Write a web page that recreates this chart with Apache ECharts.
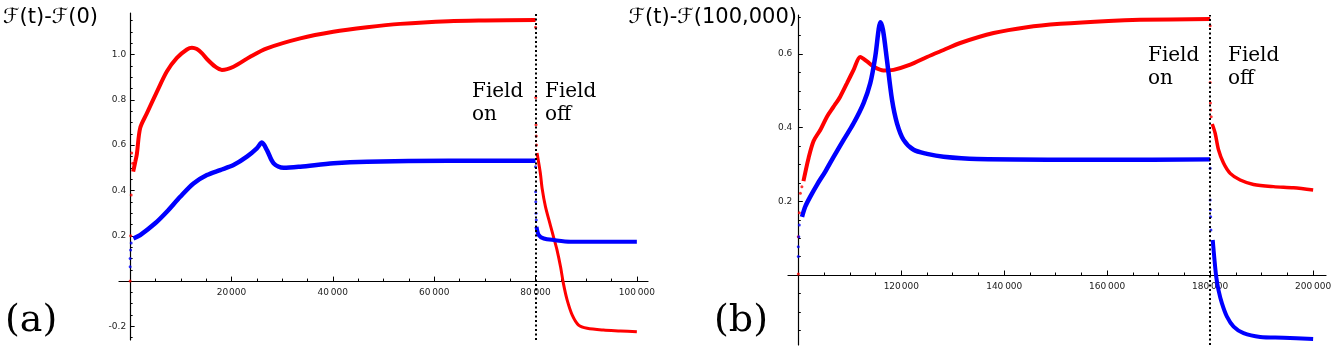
<!DOCTYPE html>
<html><head><meta charset="utf-8">
<script src="https://cdn.jsdelivr.net/npm/echarts@6/dist/echarts.min.js"></script>
<style>html,body{margin:0;padding:0;background:#fff}#c{width:1335px;height:352px}</style>
</head><body><div id="c"></div>
<script>
// ---------- Panel (a): F(t) - F(0) ----------
const fieldOffA = 80000;
const redDotsA0 = [[0,0.0],[100,0.2],[200,0.38],[300,0.565],[500,0.52]];
const redOnA = [[600,0.483],[1000,0.525],[1320,0.56],[1975,0.675],[3290,0.74],[5270,0.835],[7240,0.925],[9220,0.985],[11200,1.022],[12200,1.03],[13170,1.024],[14200,1.005],[15150,0.98],[16790,0.946],[18100,0.932],[20400,0.946],[23700,0.99],[27000,1.027],[33575,1.071],[40100,1.10],[46750,1.12],[53300,1.135],[62860,1.147],[70000,1.15],[80000,1.152]];
const redDotsOffA = [[80000,1.12],[80050,0.81],[80100,0.69],[80150,0.64],[80200,0.60]];
const redOffA = [[80300,0.565],[80950,0.477],[81300,0.41],[81950,0.33],[82950,0.245],[83550,0.195],[84250,0.137],[84950,0.062],[85500,-0.01],[86250,-0.084],[87250,-0.15],[88500,-0.194],[90200,-0.208],[93400,-0.216],[96800,-0.22],[100000,-0.224]];
const blueDotsA0 = [[0,0.063],[0,0.10],[100,0.137],[200,0.168]];
const blueOnA = [[650,0.188],[1975,0.203],[4940,0.255],[7240,0.306],[9875,0.372],[12500,0.431],[15150,0.468],[17775,0.49],[20400,0.512],[23040,0.549],[25000,0.586],[26000,0.611],[27000,0.578],[28300,0.52],[30300,0.50],[33575,0.505],[40150,0.52],[46750,0.527],[62860,0.531],[80000,0.531]];
const blueDotsOffA = [[80000,0.505],[80020,0.394],[80050,0.35],[80100,0.299],[80150,0.27]];
const blueOffA = [[80200,0.24],[80650,0.203],[81630,0.188],[83600,0.181],[86900,0.174],[100000,0.174]];
const xMajorA = [20000,40000,60000,80000,100000];
const xLabelsA = ['20\u200A000','40\u2009000','60\u2009000','80\u2009000','100\u2009000'];
const yMajorA = [-0.2,0.2,0.4,0.6,0.8,1.0];
const yLabelsA = ['-0.2','0.2','0.4','0.6','0.8','1.0'];

// ---------- Panel (b): F(t) - F(100,000) ----------
const fieldOffB = 180000;
const redDotsB0 = [[100000,0.003],[100000,0.104],[100200,0.169],[100400,0.222],[100700,0.24]];
const redOnB = [[101000,0.255],[102000,0.318],[102970,0.364],[104270,0.394],[105570,0.43],[106860,0.457],[108160,0.485],[109460,0.521],[110740,0.557],[112040,0.592],[113340,0.58],[114620,0.566],[116570,0.555],[118500,0.557],[121750,0.571],[125000,0.592],[128220,0.611],[131460,0.63],[137930,0.657],[144400,0.673],[150900,0.682],[160260,0.69],[166400,0.693],[180000,0.695]];
const redDotsOffB = [[180000,0.677],[180000,0.523],[180050,0.467],[180100,0.448],[180200,0.43]];
const redOffB = [[180400,0.41],[180970,0.385],[181620,0.34],[182590,0.304],[183890,0.276],[185830,0.258],[188420,0.246],[192300,0.24],[196190,0.237],[200000,0.231]];
const blueDotsB0 = [[100000,0.05],[100000,0.077],[100100,0.104],[100200,0.136]];
const blueOnB = [[100720,0.158],[101360,0.186],[102330,0.213],[103630,0.245],[105240,0.281],[106860,0.321],[108800,0.367],[110740,0.412],[112680,0.467],[113980,0.521],[114950,0.593],[115600,0.666],[115920,0.686],[116440,0.666],[117220,0.584],[118200,0.476],[119170,0.412],[120450,0.367],[122400,0.34],[125000,0.329],[128220,0.321],[134700,0.315],[160260,0.313],[180000,0.314]];
const blueDotsOffB = [[180000,0.29],[180000,0.204],[180050,0.177],[180100,0.158],[180150,0.122]];
const blueOffB = [[180500,0.095],[180840,0.041],[181180,-0.005],[181620,-0.041],[182290,-0.077],[183260,-0.113],[184550,-0.14],[186490,-0.158],[189720,-0.168],[194250,-0.17],[200000,-0.174]];
const xMajorB = [120000,140000,160000,180000,200000];
const xLabelsB = ['120\u200A000','140\u2009000','160\u2009000','180\u2009000','200\u2009000'];
const yMajorB = [0.2,0.4,0.6];
const yLabelsB = ['0.2','0.4','0.6'];

function steps(a, b, s){ const r=[]; for(let v=a; v<=b+1e-9; v+=s) r.push(Math.round(v*1000)/1000); return r; }
const xMinorA = steps(0,100000,5000), yMinorA = steps(-0.25,1.15,0.05);
const xMinorB = steps(100000,200000,5000), yMinorB = steps(-0.15,0.7,0.05);

const RED='#ff0000', BLUE='#0000ff';
const tickFont = {fontFamily:'DejaVu Sans', fontSize:9, color:'#222'};
function lab(vals, labels){ return v => { const i = vals.findIndex(x=>Math.abs(x-v)<1e-6); return i>=0?labels[i]:''; }; }

// grid boxes (layout) and axis ranges
const G = [
  {left:119, top:13, width:529, height:327, xr:[-2200,102200], yr:[-0.26,1.183], xCross:0,      yCross:0},
  {left:788, top:15, width:538, height:330, xr:[98000,202500], yr:[-0.19,0.706], xCross:100000, yCross:0}
];
// pixel offsets so that each axis crosses the other at the crossing value
function xOff(g){ return -(g.height*(g.yCross-g.yr[0])/(g.yr[1]-g.yr[0])); }
function yOff(g){ return -(g.width*(g.xCross-g.xr[0])/(g.xr[1]-g.xr[0])); }

function xAxes(gi, major, labels, minor){
  const g=G[gi], off=xOff(g);
  return [
    {gridIndex:gi, type:'value', min:g.xr[0], max:g.xr[1], position:'bottom', offset:off,
     axisLine:{onZero:false, lineStyle:{color:'#000', width:1.2}},
     axisTick:{inside:true, length:4.5, customValues:major, lineStyle:{color:'#000'}},
     axisLabel:Object.assign({customValues:major, formatter:lab(major,labels), margin:7}, tickFont),
     splitLine:{show:false}},
    {gridIndex:gi, type:'value', min:g.xr[0], max:g.xr[1], position:'bottom', offset:off,
     axisLine:{show:false, onZero:false},
     axisTick:{inside:true, length:2.5, customValues:minor, lineStyle:{color:'#000'}},
     axisLabel:{show:false}, splitLine:{show:false}}
  ];
}
function yAxes(gi, major, labels, minor, margin){
  const g=G[gi], off=yOff(g);
  return [
    {gridIndex:gi, type:'value', min:g.yr[0], max:g.yr[1], position:'left', offset:off,
     axisLine:{onZero:false, lineStyle:{color:'#000', width:1.2}},
     axisTick:{inside:true, length:4.5, customValues:major, lineStyle:{color:'#000'}},
     axisLabel:Object.assign({customValues:major, formatter:lab(major,labels), margin}, tickFont),
     splitLine:{show:false}},
    {gridIndex:gi, type:'value', min:g.yr[0], max:g.yr[1], position:'left', offset:off,
     axisLine:{show:false, onZero:false},
     axisTick:{inside:true, length:2.5, customValues:minor, lineStyle:{color:'#000'}},
     axisLabel:{show:false}, splitLine:{show:false}}
  ];
}

function lineS(x, y, data, color, w){
  return {type:'line', xAxisIndex:x, yAxisIndex:y, data, smooth:0.3, showSymbol:false, symbol:'none',
          lineStyle:{color, width:w}, itemStyle:{color}, silent:true, animation:false, z:3};
}
function dotS(x, y, data, color){
  return {type:'scatter', xAxisIndex:x, yAxisIndex:y, data, symbol:'circle', symbolSize:3,
          itemStyle:{color}, silent:true, animation:false, z:3};
}
function vline(x, y, val){
  return {type:'line', xAxisIndex:x, yAxisIndex:y, data:[], silent:true, animation:false,
          markLine:{symbol:'none', silent:true, label:{show:false}, animation:false,
            lineStyle:{color:'#000', type:[2,2.5], width:2}, data:[{xAxis:val}]}, z:5};
}

const chart = echarts.init(document.getElementById('c'), null, {renderer:'canvas'});
chart.setOption({
  backgroundColor:'#fff',
  animation:false,
  grid:G.map(g=>({left:g.left, top:g.top, width:g.width, height:g.height})),
  xAxis:[].concat(xAxes(0, xMajorA, xLabelsA, xMinorA), xAxes(1, xMajorB, xLabelsB, xMinorB)),
  yAxis:[].concat(yAxes(0, yMajorA, yLabelsA, yMinorA, 4), yAxes(1, yMajorB, yLabelsB, yMinorB, 6)),
  series:[
    vline(0,0,fieldOffA),
    lineS(0,0,redOnA,RED,4), dotS(0,0,redDotsA0,RED), dotS(0,0,redDotsOffA,RED), lineS(0,0,redOffA,RED,3),
    lineS(0,0,blueOnA,BLUE,4.5), dotS(0,0,blueDotsA0,BLUE), dotS(0,0,blueDotsOffA,BLUE), lineS(0,0,blueOffA,BLUE,4),
    vline(2,2,fieldOffB),
    lineS(2,2,redOnB,RED,4), dotS(2,2,redDotsB0,RED), dotS(2,2,redDotsOffB,RED), lineS(2,2,redOffB,RED,3.5),
    lineS(2,2,blueOnB,BLUE,4.5), dotS(2,2,blueDotsB0,BLUE), dotS(2,2,blueDotsOffB,BLUE), lineS(2,2,blueOffB,BLUE,4)
  ],
  graphic:[
    {type:'text', left:3, top:7, style:{text:'\u2131(t)-\u2131(0)', font:'21px "DejaVu Sans"', fill:'#000'}},
    {type:'text', right:538, top:7, style:{text:'\u2131(t)-\u2131(100,000)', font:'21px "DejaVu Sans"', fill:'#000'}},
    {type:'text', left:5, top:302, style:{text:'(a)', font:'38px "DejaVu Serif"', fill:'#000'}},
    {type:'text', left:714, top:302, style:{text:'(b)', font:'38px "DejaVu Serif"', fill:'#000'}},
    {type:'text', left:472, top:80, style:{text:'Field\non', font:'20px "DejaVu Serif"', lineHeight:23, fill:'#000'}},
    {type:'text', left:545, top:80, style:{text:'Field\noff', font:'20px "DejaVu Serif"', lineHeight:23, fill:'#000'}},
    {type:'text', left:1148, top:44, style:{text:'Field\non', font:'20px "DejaVu Serif"', lineHeight:23, fill:'#000'}},
    {type:'text', left:1228, top:44, style:{text:'Field\noff', font:'20px "DejaVu Serif"', lineHeight:23, fill:'#000'}}
  ]
});
</script>
</body></html>
